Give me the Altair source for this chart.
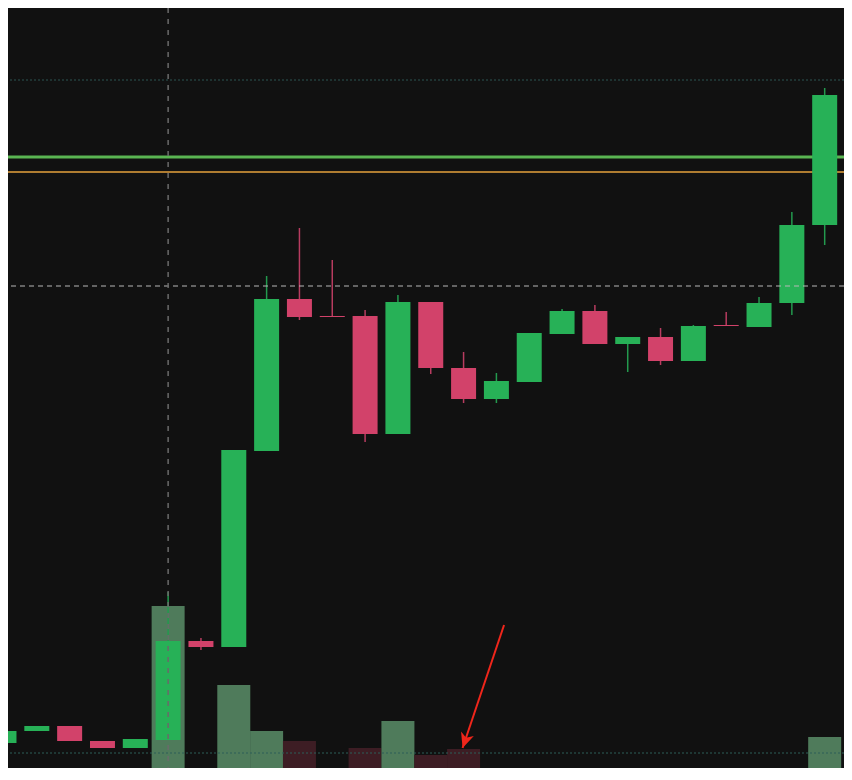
import altair as alt
import pandas as pd

# ---- data ----
idx = list(range(1, 28))
opens = [10.37, 10.49, 10.54, 10.39, 10.32, 10.40, 11.39, 11.33, 13.29, 14.81,
         14.64, 14.64, 13.46, 14.78, 14.12, 13.81, 13.98, 14.46, 14.69, 14.36,
         14.43, 14.19, 14.55, 14.53, 14.77, 15.55, 16.85]
closes = [10.49, 10.54, 10.39, 10.32, 10.41, 11.39, 11.33, 13.30, 14.81, 14.63,
          14.63, 13.46, 14.78, 14.12, 13.81, 13.99, 14.47, 14.69, 14.36, 14.43,
          14.19, 14.54, 14.54, 14.77, 15.55, 16.85, 17.11]
highs = [10.49, 10.54, 10.54, 10.39, 10.41, 11.88, 11.42, 13.30, 15.04, 15.52,
         15.20, 14.70, 14.85, 14.78, 14.28, 14.07, 14.47, 14.71, 14.75, 14.43,
         14.52, 14.55, 14.68, 14.83, 15.68, 16.92, 17.20]
lows = [10.37, 10.49, 10.39, 10.32, 10.32, 10.40, 11.30, 11.33, 13.29, 14.60,
        14.63, 13.38, 13.46, 14.06, 13.77, 13.77, 13.98, 14.46, 14.36, 14.08,
        14.15, 14.19, 14.54, 14.53, 14.65, 15.35, 16.80]
volumes = [45000, 38000, 52000, 30000, 41000, 254000, 62000, 175000, 129000, 119000,
           70000, 112000, 139000, 105000, 111000, 55000, 72000, 48000, 60000, 35000,
           42000, 58000, 25000, 50000, 76000, 123000, 65000]

# reference levels
dotted_levels = [17.00]
volume_dotted_level = [10.27]
green_level = [16.23]
orange_level = [16.08]
cross_y = [14.94]
cross_x = [6]

# annotation arrow (start -> tip), in data units
arrow_x = [16.233, 14.969]
arrow_y = [11.55, 10.32]

# ---- styling ----
BG = "#111111"
UP = "#27b157"
DOWN = "#d2426a"
UP_WICK = "#239a4e"
DOWN_WICK = "#b83c60"
VOL_UP = "#4f7b5b"
VOL_DOWN = "#3d1d24"

df = pd.DataFrame({"i": idx, "open": opens, "close": closes,
                   "high": highs, "low": lows, "volume": volumes})
df["dir"] = ["up" if c >= o else "down" for o, c in zip(opens, closes)]

xs = alt.Scale(domain=[1.2746, 26.436], nice=False, zero=False)
ys = alt.Scale(domain=[10.12, 17.72], nice=False, zero=False)
vs = alt.Scale(domain=[92000, 852000], nice=False, zero=False)

X = alt.X("i:Q", scale=xs, axis=None)

col_body = alt.Color("dir:N", scale=alt.Scale(domain=["up", "down"], range=[UP, DOWN]), legend=None)
col_wick = alt.Color("dir:N", scale=alt.Scale(domain=["up", "down"], range=[UP_WICK, DOWN_WICK]), legend=None)
col_vol = alt.Color("dir:N", scale=alt.Scale(domain=["up", "down"], range=[VOL_UP, VOL_DOWN]), legend=None)

base = alt.Chart(df)

volume = base.mark_bar(size=33, clip=True, opacity=1).encode(
    x=X,
    y=alt.Y("volume:Q", scale=vs, axis=None),
    color=col_vol,
)

wicks = base.mark_rule(strokeWidth=1.5, clip=True).encode(
    x=X,
    y=alt.Y("low:Q", scale=ys, axis=None),
    y2="high:Q",
    color=col_wick,
)

bodies = base.mark_bar(size=25, clip=True).encode(
    x=X,
    y=alt.Y("open:Q", scale=ys, axis=None),
    y2="close:Q",
    color=col_body,
)


def hline(values, **style):
    return alt.Chart(pd.DataFrame({"v": values})).mark_rule(clip=True, **style).encode(
        y=alt.Y("v:Q", scale=ys, axis=None)
    )


top_dotted = hline(dotted_levels, color="#2c5552", strokeWidth=1, strokeDash=[2, 2])
bottom_dotted = hline(volume_dotted_level, color="#2d5e58", strokeWidth=1, strokeDash=[2, 2])
green_line = hline(green_level, color="#5ab552", strokeWidth=3)
orange_line = hline(orange_level, color="#e6a23c", strokeWidth=1.5)
cross_h = hline(cross_y, color="#b8b8b8", strokeWidth=1, strokeDash=[5, 4])

cross_v = alt.Chart(pd.DataFrame({"x": cross_x})).mark_rule(
    color="#6a6a6a", strokeWidth=1.5, strokeDash=[5, 6], clip=True
).encode(x=alt.X("x:Q", scale=xs, axis=None))

arrow_df = pd.DataFrame({"x": [arrow_x[0]], "y": [arrow_y[0]],
                         "x2": [arrow_x[1]], "y2": [arrow_y[1]]})
arrow_shaft = alt.Chart(arrow_df).mark_rule(color="#f0261b", strokeWidth=2, clip=True).encode(
    x=alt.X("x:Q", scale=xs, axis=None),
    y=alt.Y("y:Q", scale=ys, axis=None),
    x2="x2:Q",
    y2="y2:Q",
)
head_df = pd.DataFrame({"x": [arrow_x[1]], "y": [arrow_y[1]]})
arrow_head = alt.Chart(head_df).mark_point(
    shape="M0,0 L-0.45,-1 L0,-0.72 L0.45,-1 Z",
    size=900, filled=True, color="#f0261b", opacity=1, angle=19, strokeWidth=0, clip=True,
).encode(
    x=alt.X("x:Q", scale=xs, axis=None),
    y=alt.Y("y:Q", scale=ys, axis=None),
)

chart = alt.layer(
    top_dotted, green_line, orange_line,
    volume, bottom_dotted,
    wicks, bodies,
    cross_h, cross_v,
    arrow_shaft, arrow_head,
).resolve_scale(y="independent", color="independent").properties(
    width=836, height=760, padding=0, background=BG,
    autosize=alt.AutoSizeParams(type="none"),
).configure_view(strokeWidth=0, fill=BG)

chart.save("out.html", embed_options={"renderer": "svg", "actions": False})
